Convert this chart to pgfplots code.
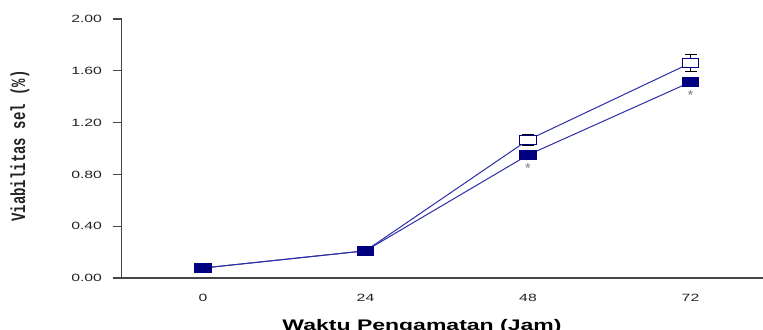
\documentclass[border=0pt]{standalone}
\usepackage{pgfplots}
\pgfplotsset{compat=1.18}
\usepackage{graphicx}
\usepackage{fontspec}
\setmainfont{Liberation Sans}
\newfontfamily\monofont{Liberation Mono}

\definecolor{navyfill}{RGB}{0,0,128}
\definecolor{lineblue}{RGB}{45,45,165}
\definecolor{axisgray}{RGB}{70,70,70}
\definecolor{labelgray}{RGB}{35,35,35}

% wide-set glyphs
\newcommand\sx[1]{\scalebox{1.5}[1]{#1}}

\begin{document}
\begin{tikzpicture}[x=0.75pt,y=0.75pt]
\useasboundingbox (0,0) rectangle (763,329);
\begin{axis}[
  at={(91.3125pt,38.25pt)}, anchor=south west,
  scale only axis,
  width=481.41pt, height=194.25pt,
  xmin=-0.5, xmax=3.45,
  ymin=0, ymax=2,
  axis lines=left,
  axis line style={-, axisgray, line width=1.1pt},
  clip=false,
  tick align=outside,
  major tick length=6.75pt,
  minor tick length=4pt,
  tick style={axisgray, line width=0.9pt},
  xtick={0,1,2,3},
  xticklabels={\sx{0},\sx{24},\sx{48},\sx{72}},
  xtick style={draw=none},
  minor xtick={-0.5,0.5,1.5,2.5},
  ytick={0,0.4,0.8,1.2,1.6,2.0},
  yticklabels={\sx{0.00},\sx{0.40},\sx{0.80},\sx{1.20},\sx{1.60},\sx{2.00}},
  ticklabel style={font=\fontsize{7.9}{9}\selectfont, text=labelgray},
  xticklabel style={anchor=base, yshift=-11pt},
  yticklabel style={anchor=east, xshift=-4.5pt},
]
% open markers
\addplot[lineblue, line width=0.75pt,
  mark=square*, mark size=3.4pt,
  mark options={xscale=1.8, fill=white, draw=navyfill, line width=0.9pt, solid},
  error bars/.cd, y dir=both, y explicit,
  error bar style={black, line width=0.75pt},
  error mark options={rotate=90, mark size=4.5pt, black, line width=0.75pt}]
  coordinates {
    (0,0.077) +- (0,0)
    (1,0.21)  +- (0,0)
    (2,1.066) +- (0,0.045)
    (3,1.66)  +- (0,0.065)
  };
% filled markers
\addplot[lineblue, line width=0.75pt,
  mark=square*, mark size=3.4pt,
  mark options={xscale=1.8, fill=navyfill, draw=navyfill, solid}]
  coordinates {
    (0,0.077)
    (1,0.21)
    (2,0.95)
    (3,1.513)
  };
% significance marks under the filled series
\addplot[draw=none, mark=none,
  nodes near coords={*},
  every node near coord/.append style={anchor=north, yshift=-2.5pt,
    font=\fontsize{11}{12}\selectfont, text=gray}]
  coordinates {
    (2,0.95)
    (3,1.513)
  };
\end{axis}
\node[rotate=90, text=labelgray] at (20,183)
  {\scalebox{1}[1.45]{\fontsize{10.5}{12}\selectfont\monofont\bfseries Viabilitas sel (\%)}};
\node[anchor=base, text=black] at (422,-1)
  {\sx{\fontsize{11.5}{13}\selectfont\bfseries Waktu Pengamatan (Jam)}};
\end{tikzpicture}
\end{document}
